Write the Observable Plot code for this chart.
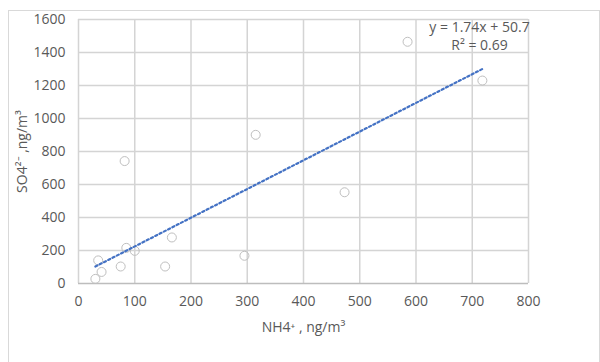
<!DOCTYPE html>
<html>
<head>
<meta charset="utf-8">
<script src="https://cdn.jsdelivr.net/npm/d3@7"></script>
<script src="https://cdn.jsdelivr.net/npm/@observablehq/plot@0.6"></script>
<style>
  html, body { margin: 0; padding: 0; background: #fff; }
  #chart { margin: 10px 0 0 8px; width: 590px; height: 352px;
           border: 1px solid #d9d9d9; border-bottom: none; overflow: visible; }
  #chart svg { display: block; margin: -11px 0 0 -9px; max-width: none !important; width: 600px !important; height: 362px !important; }
</style>
</head>
<body>
<div id="chart"></div>
<script>
// NH4+ (x) and SO4 2- (y), ng/m3
const nh4 = [30, 35, 41, 75, 82, 85, 100, 154, 166, 295, 315, 473, 585, 718];
const so4 = [28, 140, 70, 103, 742, 216, 198, 103, 279, 168, 901, 553, 1465, 1230];
const xTicks = [0, 100, 200, 300, 400, 500, 600, 700, 800];
const yTicks = [0, 200, 400, 600, 800, 1000, 1200, 1400, 1600];
const trendSlope = [1.74];
const trendIntercept = [50.7];
const trendText = ["y = 1.74x + 50.7", "R² = 0.69"];
const xLabel = "NH4⁺ , ng/m³";
const yLabel = "SO4²⁻ ,ng/m³";

const points = nh4.map((x, i) => ({x, y: so4[i]}));
const [xmin, xmax] = d3.extent(nh4);
const trend = [xmin, xmax].map(x => ({x, y: trendSlope[0] * x + trendIntercept[0]}));

const font = "'Open Sans', sans-serif";
const grey = "#595959";
const fs = 14;

const chart = Plot.plot({
  width: 600,
  height: 362,
  marginLeft: 78,
  marginRight: 72,
  marginTop: 19,
  marginBottom: 79,
  style: {fontFamily: font, fontSize: fs + "px", color: grey, background: "transparent", overflow: "visible", maxWidth: "none"},
  x: {domain: [0, 800], ticks: xTicks},
  y: {domain: [0, 1600], ticks: yTicks},
  marks: [
    Plot.ruleX(xTicks, {stroke: "#d4d4d4", strokeWidth: 1.5}),
    Plot.ruleY(yTicks.filter(d => d > 0), {stroke: "#d4d4d4", strokeWidth: 1.5}),
    Plot.ruleY([0], {stroke: "#bdbdbd", strokeWidth: 1.5}),
    Plot.axisX({ticks: xTicks, tickSize: 0, tickPadding: 13, tickFormat: d => String(d), label: null, fill: grey, fontSize: fs}),
    Plot.axisY({ticks: yTicks, tickSize: 0, tickPadding: 13, tickFormat: d => String(d), label: null, fill: grey, fontSize: fs}),
    Plot.dot(points, {x: "x", y: "y", r: 4.5, stroke: "#bfbfbf", strokeWidth: 1, fill: "none"}),
    Plot.line(trend, {x: "x", y: "y", stroke: "#4472C4", strokeWidth: 2.2, strokeDasharray: "2.2 2.6"}),
    Plot.text([trendText[0]], {frameAnchor: "top-right", dx: -49, dy: 8, textAnchor: "middle", lineAnchor: "middle", fill: grey, fontSize: fs}),
    Plot.text([trendText[1]], {frameAnchor: "top-right", dx: -49, dy: 26, textAnchor: "middle", lineAnchor: "middle", fill: grey, fontSize: fs}),
    Plot.text([xLabel], {frameAnchor: "bottom", dy: 44, textAnchor: "middle", lineAnchor: "middle", fill: grey, fontSize: fs}),
    Plot.text([yLabel], {frameAnchor: "left", dx: -56, rotate: -90, textAnchor: "middle", lineAnchor: "middle", fill: grey, fontSize: fs})
  ]
});
document.getElementById("chart").appendChild(chart);
</script>
</body>
</html>
